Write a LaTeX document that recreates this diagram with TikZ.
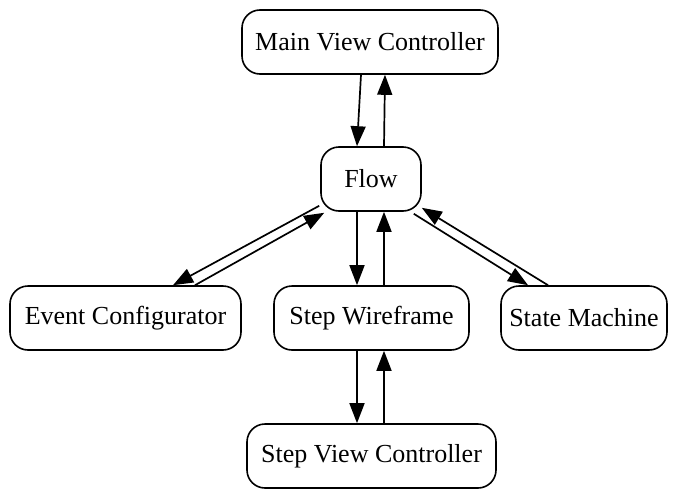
\documentclass[tikz,border=0pt]{standalone}
\usepackage{fontspec}
\setmainfont{Liberation Serif}
\usetikzlibrary{arrows.meta,calc}
\begin{document}
\begin{tikzpicture}[x=1pt,y=-1pt,
  box/.style={draw=black,line width=1.6pt,rounded corners=18pt,minimum height=64pt,inner sep=0pt,
    font=\fontsize{26pt}{30pt}\selectfont,fill=white},
  edge/.style={line width=1.7pt,-{Triangle[length=20pt,width=15pt]}}]
\useasboundingbox (0,0) rectangle (675,490);
\node[box,minimum width=256pt] (mvc) at (370,42) {Main View Controller};
\node[box,minimum width=100pt] (flow) at (371,179) {Flow};
\node[box,minimum width=231pt] (ec) at (125.5,318) {Event Configurator};
\node[box,minimum width=195pt] (sw) at (371.5,318) {Step Wireframe};
\node[box,minimum width=166pt] (sm) at (584,318) {State Machine};
\node[box,minimum width=249pt] (svc) at (371.5,456) {Step View Controller};
% vertical pairs
\draw[edge] ($(mvc.south)+(-9,0)$) -- ($(flow.north)+(-14,0)$);
\draw[edge] ($(flow.north)+(13,0)$) -- ($(mvc.south)+(15,0)$);
\draw[edge] ($(flow.south)+(-14,0)$) -- ($(sw.north)+(-14.5,0)$);
\draw[edge] ($(sw.north)+(12.5,0)$) -- ($(flow.south)+(13,0)$);
\draw[edge] ($(sw.south)+(-14.5,0)$) -- ($(svc.north)+(-14.5,0)$);
\draw[edge] ($(svc.north)+(12.5,0)$) -- ($(sw.south)+(12.5,0)$);
% diagonals
\draw[edge] ($(flow.south west)+(-1,-6)$) -- ($(ec.north)+(47.5,0)$);
\draw[edge] ($(ec.north)+(69.5,0)$) -- ($(flow.south west)+(4,1)$);
\draw[edge] ($(flow.south east)+(-8,2)$) -- ($(sm.north)+(-56,0)$);
\draw[edge] ($(sm.north)+(-36,0)$) -- ($(flow.south east)+(0,-4)$);
\end{tikzpicture}
\end{document}
